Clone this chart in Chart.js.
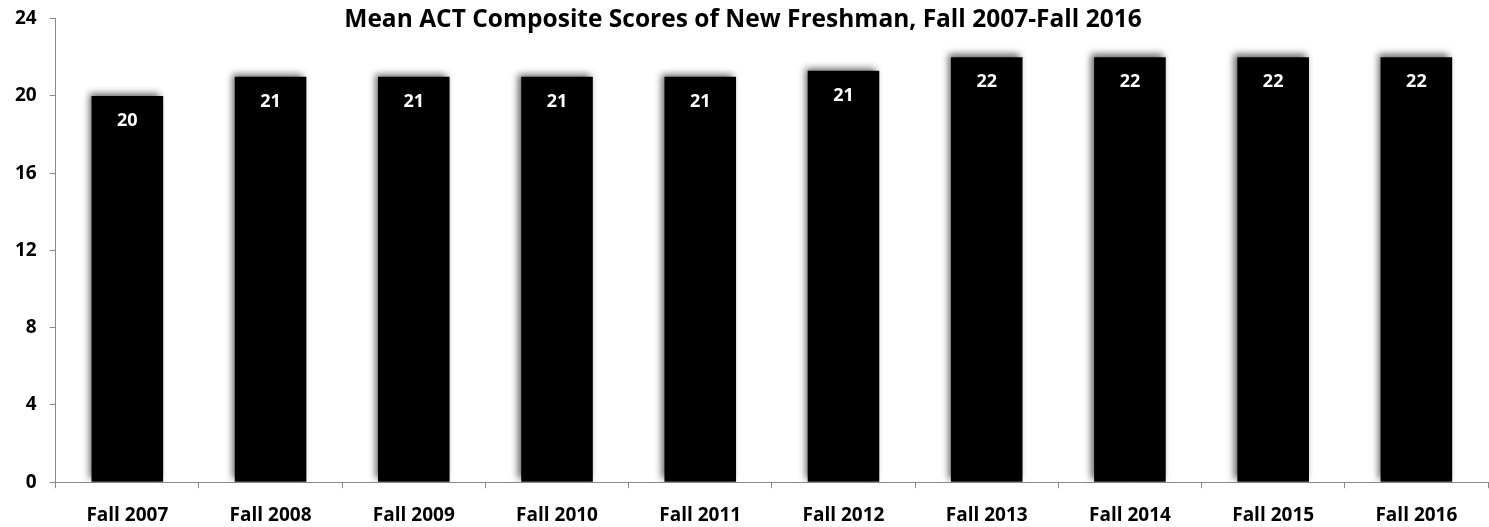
<!DOCTYPE html>
<html>
<head>
<meta charset="utf-8">
<script src="https://cdn.jsdelivr.net/npm/chart.js@4/dist/chart.umd.min.js"></script>
<style>
  html, body { margin: 0; padding: 0; background: #fff; }
  #wrap { width: 1489px; height: 527px; }
</style>
</head>
<body>
<div id="wrap"><canvas id="chart"></canvas></div>
<script>
// Data
const categories = ['Fall 2007', 'Fall 2008', 'Fall 2009', 'Fall 2010', 'Fall 2011',
    'Fall 2012', 'Fall 2013', 'Fall 2014', 'Fall 2015', 'Fall 2016']
const meanScores = [20.0, 21.0, 21.0, 21.0, 21.0, 21.3, 22.0, 22.0, 22.0, 22.0]
const yTicks = [0, 4, 8, 12, 16, 20, 24]
const titleText = 'Mean ACT Composite Scores of New Freshman, Fall 2007-Fall 2016'

const FONT = '"Open Sans", Lato, sans-serif'

// Soft shadow behind bars
const barShadow = {
    id: 'barShadow',
    beforeDatasetDraw (chart) {
        const ctx = chart.ctx
        ctx.save()
        ctx.shadowColor = 'rgba(0,0,0,0.6)'
        ctx.shadowBlur = 7
        ctx.shadowOffsetX = -3
        ctx.shadowOffsetY = -3
    },
    afterDatasetDraw (chart) {
        chart.ctx.restore()
    },
}

// Value labels inside bar tops and the title
const labelsAndTitle = {
    id: 'labelsAndTitle',
    afterDraw (chart) {
        const ctx = chart.ctx
        const meta = chart.getDatasetMeta(0)
        ctx.save()
        ctx.fillStyle = '#fff'
        ctx.font = `bold 18px ${FONT}`
        ctx.textAlign = 'center'
        ctx.textBaseline = 'middle'
        meta.data.forEach((bar, i) => {
            ctx.fillText(Math.round(meanScores[i]).toString(), bar.x, bar.y + 25)
        })
        ctx.fillStyle = '#000'
        ctx.font = `bold 24.5px ${FONT}`
        ctx.fillText(titleText, 743, 20)
        ctx.restore()
    },
}

const ctx = document.getElementById('chart').getContext('2d')
new Chart(ctx, {
    type: 'bar',
    data: {
        labels: categories,
        datasets: [
            {
                data: meanScores,
                backgroundColor: '#000',
                borderWidth: 0,
                barPercentage: 0.5,
                categoryPercentage: 1.0,
            },
        ],
    },
    options: {
        responsive: true,
        maintainAspectRatio: false,
        animation: false,
        layout: { padding: { left: 2, right: 1, top: 2, bottom: -16 } },
        plugins: {
            legend: { display: false },
            tooltip: { enabled: false },
        },
        scales: {
            x: {
                grid: {
                    display: true,
                    drawOnChartArea: false,
                    drawTicks: true,
                    tickLength: 6,
                    color: '#898989',
                },
                border: { color: '#898989', width: 1 },
                ticks: {
                    color: '#000',
                    font: { family: FONT, size: 19, weight: 'bold' },
                    padding: 16,
                    maxRotation: 0,
                },
            },
            y: {
                min: 0,
                max: 24,
                afterBuildTicks (axis) {
                    axis.ticks = yTicks.map((v) => ({ value: v }))
                },
                grid: {
                    display: true,
                    drawOnChartArea: false,
                    drawTicks: true,
                    tickLength: 6,
                    color: '#898989',
                },
                border: { color: '#898989', width: 1 },
                ticks: {
                    color: '#000',
                    font: { family: FONT, size: 19, weight: 'bold', lineHeight: 0.6 },
                    padding: 13,
                },
            },
        },
    },
    plugins: [ barShadow, labelsAndTitle ],
})
</script>
</body>
</html>
